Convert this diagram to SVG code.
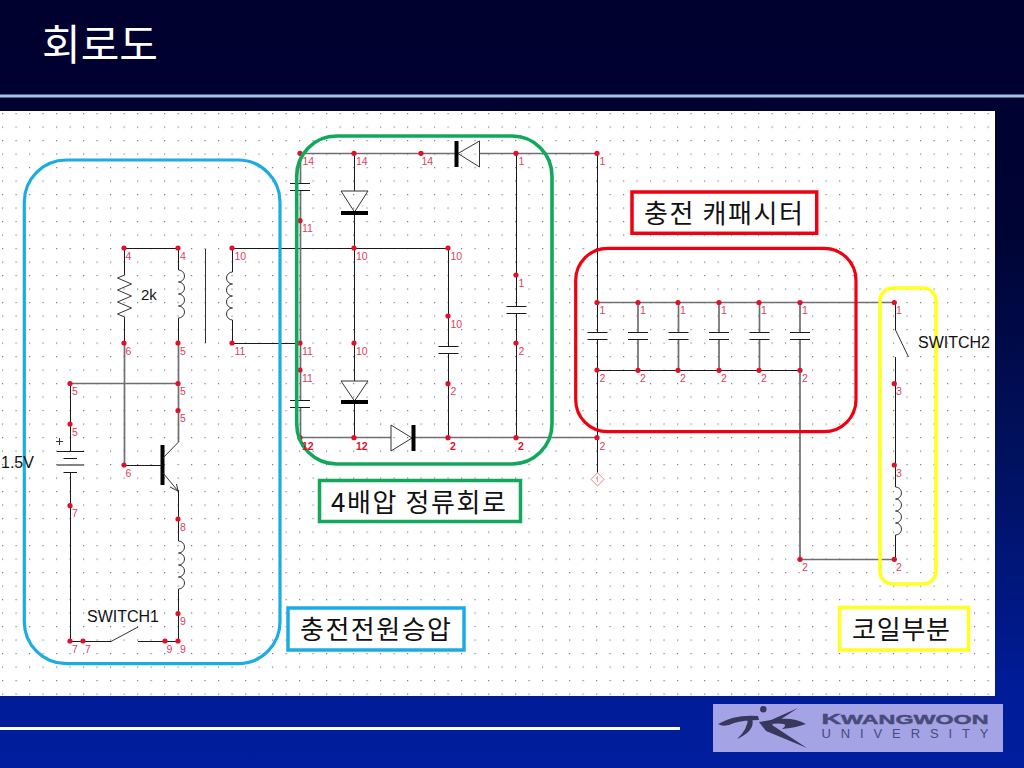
<svg xmlns="http://www.w3.org/2000/svg" xmlns:xlink="http://www.w3.org/1999/xlink" width="1024" height="768" viewBox="0 0 1024 768">
<style>
.w{fill:none;stroke:#1a1a1a;stroke-width:1}
.g{fill:none;stroke:#6f6f6f;stroke-width:1.7}
.s{fill:none;stroke:#333;stroke-width:1}
.b{fill:none;stroke:#000;stroke-width:4}
.p{fill:#e0102a}
.n{font:10.5px "Liberation Sans",sans-serif;fill:#e0405a}
.nb{font:bold 10.5px "Liberation Sans",sans-serif;fill:#e0102a}
.t{font-family:"Liberation Sans",sans-serif;font-size:16px;fill:#111}
.k{font-family:"Noto Sans CJK KR","Liberation Sans",sans-serif;font-size:26px;fill:#111}
.ring{fill:none;stroke-width:3.2}
.box{fill:#fff;stroke-width:3.5}
</style>
<defs>
<linearGradient id="bg" x1="0" y1="0" x2="0" y2="1">
<stop offset="0" stop-color="#00002e"/><stop offset=".3" stop-color="#000434"/><stop offset=".6" stop-color="#00115f"/><stop offset=".9" stop-color="#001c98"/><stop offset="1" stop-color="#001e9e"/>
</linearGradient>
<pattern id="dots" patternUnits="userSpaceOnUse" x="2" y="113" width="13.5" height="13.5">
<rect width="13.5" height="13.5" fill="#fff"/>
<rect x="0" y="0" width="1.2" height="1.2" fill="#7a7a9c"/>
</pattern>
<path id="ind" class="s" d="M0,0a6,6 0 0 1 0,12a6,6 0 0 1 0,12a6,6 0 0 1 0,12a6,6 0 0 1 0,12"/>
<path id="cap" class="w" d="M-10,0H10M-10,7H10"/>
</defs>
<rect width="1024" height="768" fill="url(#bg)"/>
<rect y="94.5" width="1024" height="3" fill="#a3c3e0"/>
<rect y="111" width="995" height="585" fill="url(#dots)"/>
<rect y="727" width="680" height="3" fill="#fff"/>
<text x="42" y="60" font-family="Noto Sans CJK KR,sans-serif" font-size="42" fill="#fff" textLength="116" lengthAdjust="spacing">회로도</text>

<g id="connectors">
<path class="w" d="M124.5,248.500H178.5M232.5,248.500H448.500M124.5,248.500V275M124.5,317V343.500M178.5,248.500V270M178.5,318V343.500M232.5,248.500V272M232.5,320V343.500H300"/>
<path class="g" d="M124.5,343.500V465.500M178.5,343.500V442M70,383.500H178.5"/>
<path class="w" d="M124.5,465.500H162M70.5,383.500V451M70.500,472V641.500H111M138,641.500H178.5M178.5,490V541M178.5,589V641.500"/>
<path class="g" d="M300,153.5H455M480,153.5H597.5M300.5,153.5V183M300.5,191V400M300.5,407V438M300,437.5H391M414,437.5H597.5"/>
<path class="w" d="M354.5,153.5V191M354.5,213V381M354.5,402V438M448.5,248.500V346M448.5,353V438M516.5,153.5V306M516.5,313V438"/>
<path class="w" d="M597.5,153.5V333M597.5,340V472.7"/>
<path class="g" d="M597.5,302.5H894.5"/>
<path class="g" d="M638,302.5V333M638,340V370M678.5,302.5V333M678.5,340V370M719,302.5V333M719,340V370M759.5,302.5V333M759.5,340V370M800,302.5V333M800,340V559.5H895"/>
<path class="w" d="M597.5,370.5H800"/>
<path class="w" d="M895.5,302.5V330M895.5,357V487M895.5,535V559.5"/>
</g>

<g id="R1"><path class="s" d="M124.5,275L117.5,278L131.5,284L117.5,290L131.5,296L117.5,302L131.5,308L117.5,314L124.5,317"/></g>
<g id="L1"><use xlink:href="#ind" href="#ind" transform="translate(178.5,270)"/></g>
<g id="T1"><path class="s" d="M205.5,249V343"/></g>
<g id="L2"><use xlink:href="#ind" href="#ind" transform="translate(232.5,272) scale(-1,1)"/></g>
<g id="L3"><use xlink:href="#ind" href="#ind" transform="translate(178.5,541)"/></g>
<g id="L4"><use xlink:href="#ind" href="#ind" transform="translate(895.5,487)"/></g>
<g id="BAT"><path class="w" d="M57,451.500H84M63.5,458.500H77M63.5,472.500H77"/><path class="g" d="M57,465H84"/><path class="s" d="M56,441.5H63M59.5,438V445"/></g>
<g id="Q1"><path class="b" d="M162.5,445V485"/><path class="s" d="M163,458L178.5,442M163,473L178,491M176.5,484L178,491L170,487"/></g>
<g id="SW1"><path class="s" d="M111,641.500L138,627"/></g>
<g id="SW2"><path class="s" d="M895.5,330L908.5,357"/></g>
<g id="C1"><use xlink:href="#cap" href="#cap" transform="translate(300,183.5)"/></g>
<g id="C2"><use xlink:href="#cap" href="#cap" transform="translate(300,400.500)"/></g>
<g id="C3"><use xlink:href="#cap" href="#cap" transform="translate(448.5,346.500)"/></g>
<g id="C4"><use xlink:href="#cap" href="#cap" transform="translate(516.5,306.500)"/></g>
<g id="C5"><use xlink:href="#cap" href="#cap" transform="translate(597.5,332.500)"/></g>
<g id="C6"><use xlink:href="#cap" href="#cap" transform="translate(638,332.500)"/></g>
<g id="C7"><use xlink:href="#cap" href="#cap" transform="translate(678.5,332.500)"/></g>
<g id="C8"><use xlink:href="#cap" href="#cap" transform="translate(719,332.500)"/></g>
<g id="C9"><use xlink:href="#cap" href="#cap" transform="translate(759.5,332.500)"/></g>
<g id="C10"><use xlink:href="#cap" href="#cap" transform="translate(800,332.500)"/></g>
<g id="D1"><path class="s" d="M341,191H368L354.5,212Z"/><path class="b" d="M341,213H368"/></g>
<g id="D2"><path class="s" d="M341,381H368L354.5,401Z"/><path class="b" d="M341,402H368"/></g>
<g id="D3"><path class="s" d="M391,425V451L412,438Z"/><path class="b" d="M413.5,425V451"/></g>
<g id="D4"><path class="s" d="M479.5,141V167L458,153.5Z"/><path class="b" d="M456.5,141V167"/></g>
<g id="GND"><path fill="none" stroke="#e88" stroke-width="1" d="M597.5,472.7L604,479.3L597.5,486L591,479.3Z"/><path fill="none" stroke="#e88" stroke-width=".8" d="M597.5,476V482"/></g>

<g id="pins" class="p">
<circle cx="124" cy="248" r="2.6"/><circle cx="178" cy="248" r="2.6"/><circle cx="232" cy="248" r="2.6"/><circle cx="124" cy="343" r="2.6"/><circle cx="178" cy="343" r="2.6"/><circle cx="232" cy="343" r="2.6"/><circle cx="178" cy="383.5" r="2.6"/><circle cx="70" cy="383.5" r="2.6"/><circle cx="178" cy="410.5" r="2.6"/><circle cx="70" cy="424" r="2.6"/><circle cx="124" cy="465" r="2.6"/><circle cx="70" cy="505.7" r="2.6"/><circle cx="178" cy="519" r="2.6"/><circle cx="178" cy="613.5" r="2.6"/><circle cx="70" cy="641" r="2.6"/><circle cx="83" cy="641" r="2.6"/><circle cx="165" cy="641" r="2.6"/><circle cx="178" cy="641" r="2.6"/>
<circle cx="300" cy="153.3" r="2.6"/><circle cx="354" cy="153.3" r="2.6"/><circle cx="421" cy="153.3" r="2.6"/><circle cx="516" cy="153.3" r="2.6"/><circle cx="597" cy="153.3" r="2.6"/><circle cx="300" cy="220.7" r="2.6"/><circle cx="354" cy="248" r="2.6"/><circle cx="448" cy="248" r="2.6"/><circle cx="448" cy="316" r="2.6"/><circle cx="516" cy="275" r="2.6"/><circle cx="597" cy="302.5" r="2.6"/><circle cx="300" cy="343" r="2.6"/><circle cx="300" cy="370" r="2.6"/><circle cx="354" cy="343" r="2.6"/><circle cx="516" cy="343" r="2.6"/><circle cx="597" cy="370" r="2.6"/><circle cx="448" cy="383.7" r="2.6"/><circle cx="300" cy="437.7" r="2.6"/><circle cx="354" cy="437.7" r="2.6"/><circle cx="448" cy="437.7" r="2.6"/><circle cx="516" cy="437.7" r="2.6"/><circle cx="597" cy="437.7" r="2.6"/>
<circle cx="638" cy="302.5" r="2.6"/><circle cx="678" cy="302.5" r="2.6"/><circle cx="719" cy="302.5" r="2.6"/><circle cx="759" cy="302.5" r="2.6"/><circle cx="800" cy="302.5" r="2.6"/><circle cx="638" cy="370.3" r="2.6"/><circle cx="678" cy="370.3" r="2.6"/><circle cx="719" cy="370.3" r="2.6"/><circle cx="759" cy="370.3" r="2.6"/><circle cx="800" cy="370.3" r="2.6"/><circle cx="800" cy="559.3" r="2.6"/><circle cx="894.3" cy="302.5" r="2.6"/><circle cx="894.3" cy="383.7" r="2.6"/><circle cx="894.3" cy="465" r="2.6"/><circle cx="894.3" cy="559.3" r="2.6"/>
</g>

<g id="regions">
<rect class="ring" stroke="#1cace4" x="24.3" y="160" width="255.7" height="503.7" rx="42"/>
<rect class="ring" stroke="#12a85c" style="stroke-width:3.6" x="296.7" y="136" width="255.3" height="328" rx="40"/>
<rect class="ring" stroke="#f00010" x="575.7" y="248.3" width="280.3" height="183.4" rx="32"/>
<rect class="ring" stroke="#ffff20" style="stroke-width:3.6" x="880" y="288" width="56" height="296" rx="13"/>
</g>

<g id="pin-labels" class="n" transform="translate(-.5,.5)">
<text x="126" y="259">4</text><text x="180.5" y="259">4</text><text x="235" y="259">10</text><text x="126" y="354">6</text><text x="180.5" y="354">5</text><text x="235" y="354">11</text><text x="180.5" y="394.5">5</text><text x="72.5" y="394.5">5</text><text x="180.5" y="421.5">5</text><text x="72.5" y="435">5</text><text x="126" y="476">6</text><text x="72.5" y="516.7">7</text><text x="180.5" y="530">8</text><text x="180.5" y="624.5">9</text><text x="72.5" y="652">7</text><text x="85.5" y="652">7</text><text x="167" y="652">9</text><text x="180.5" y="652">9</text>
<text x="303" y="164">14</text><text x="356.5" y="164">14</text><text x="422" y="164">14</text><text x="519" y="164">1</text><text x="600" y="164">1</text><text x="302.5" y="231.7">11</text><text x="356.5" y="259">10</text><text x="451" y="259">10</text><text x="451" y="327">10</text><text x="519" y="286">1</text><text x="600" y="313.5">1</text><text x="302.5" y="354">11</text><text x="302.5" y="381">11</text><text x="356.5" y="354">10</text><text x="519" y="354">2</text><text x="600" y="381">2</text><text x="451" y="394.7">2</text><text x="600" y="449">2</text>
<text x="640.5" y="313.5">1</text><text x="680.5" y="313.5">1</text><text x="721.5" y="313.5">1</text><text x="761.5" y="313.5">1</text><text x="802.5" y="313.5">1</text><text x="640.5" y="381">2</text><text x="680.5" y="381">2</text><text x="721.5" y="381">2</text><text x="761.5" y="381">2</text><text x="802.5" y="381">2</text><text x="802.5" y="570">2</text><text x="896.5" y="313.5">1</text><text x="896.5" y="394.7">3</text><text x="896.5" y="476">3</text><text x="896.5" y="570">2</text>
<text class="nb" x="302.5" y="449">12</text><text class="nb" x="356.5" y="449">12</text><text class="nb" x="450.5" y="449">2</text><text class="nb" x="518.5" y="449">2</text>
</g>

<g id="labels" class="t">
<text x="141" y="300" font-size="15">2k</text>
<text x="1" y="468">1.5V</text>
<text x="87" y="622">SWITCH1</text>
<text x="918" y="348">SWITCH2</text>
</g>

<g id="title-capacitor"><rect class="box" stroke="#f00010" x="632" y="192" width="184.7" height="41.3"/><text class="k" x="644" y="223" textLength="159" lengthAdjust="spacing">충전 캐패시터</text></g>
<g id="title-rectifier"><rect class="box" stroke="#12a85c" x="319.5" y="480.5" width="201" height="41"/><text class="k" x="331" y="512" textLength="175" lengthAdjust="spacing">4배압 정류회로</text></g>
<g id="title-charger"><rect class="box" stroke="#1cace4" x="288" y="608" width="176" height="42"/><text class="k" x="300" y="639" textLength="151" lengthAdjust="spacing">충전전원승압</text></g>
<g id="title-coil"><rect class="box" stroke="#ffff20" x="839.5" y="607.5" width="129" height="42.5"/><text class="k" x="852" y="639" textLength="98" lengthAdjust="spacing">코일부분</text></g>

<g id="logo">
<rect x="713" y="704" width="290" height="48" fill="#a3a3e6"/>
<circle cx="763.3" cy="709.3" r="3.2" fill="#38385c"/>
<path fill="#38385c" d="M718,724Q735,714 758,716L759,720Q744,720 734,723Q724,728 718,724ZM752,718Q756,731 737,739Q748,729 748,718ZM798,708L772,725L807,748L766,731L759,722L771,720ZM772,720Q792,716 806,724Q795,728 782,729Q792,722 770,724Z"/>
<text x="821.5" y="724" font-family="Liberation Sans,sans-serif" font-weight="bold" font-size="14" fill="#4a4a78" stroke="#4a4a78" stroke-width=".4" textLength="167" lengthAdjust="spacingAndGlyphs">K<tspan font-size="12">WANGWOON</tspan></text>
<text x="821.5" y="737.5" font-family="Liberation Sans,sans-serif" font-size="13" fill="#4a4a78" textLength="167" lengthAdjust="spacing">UNIVERSITY</text>
</g>
</svg>
